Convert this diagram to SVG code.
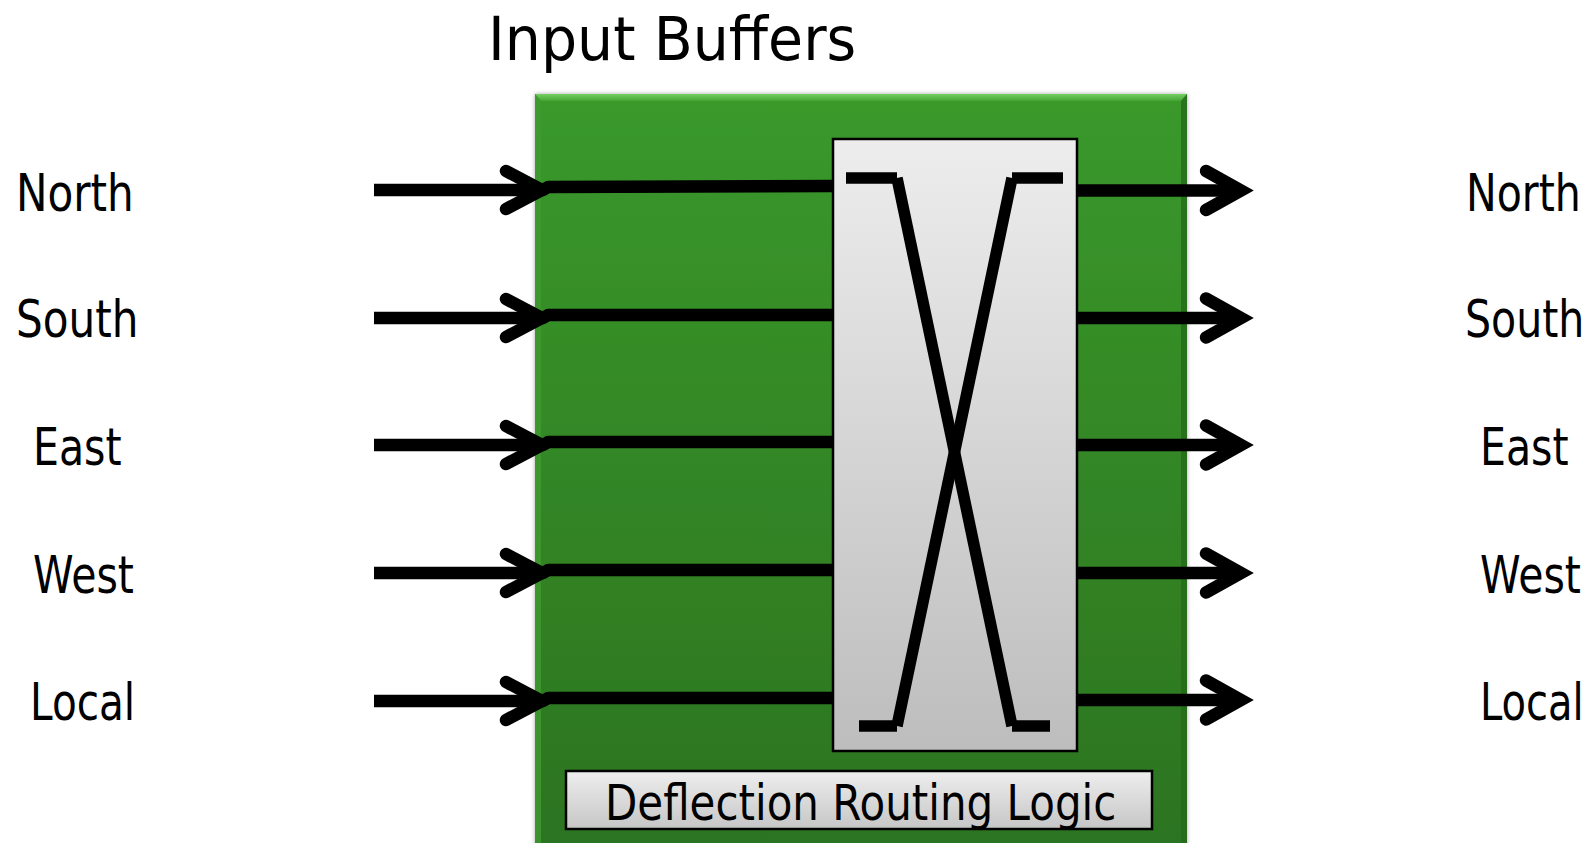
<svg xmlns="http://www.w3.org/2000/svg" width="1592" height="843" viewBox="0 0 1592 843">
<defs>
<linearGradient id="gGreen" x1="0" y1="0" x2="0" y2="1">
<stop offset="0" stop-color="#3a992b"/>
<stop offset="1" stop-color="#2c7320"/>
</linearGradient>
<linearGradient id="gTop" x1="0" y1="0" x2="0" y2="1">
<stop offset="0" stop-color="#76cf63"/>
<stop offset="1" stop-color="#44a534"/>
</linearGradient>
<linearGradient id="gGray" x1="0" y1="0" x2="0" y2="1">
<stop offset="0" stop-color="#ededed"/>
<stop offset="1" stop-color="#bdbdbd"/>
</linearGradient>
<linearGradient id="gLabel" x1="0" y1="0" x2="0" y2="1">
<stop offset="0" stop-color="#eeeeee"/>
<stop offset="1" stop-color="#c6c6c6"/>
</linearGradient>
<filter id="sh" x="-5%" y="-5%" width="110%" height="110%">
<feGaussianBlur in="SourceAlpha" stdDeviation="2"/>
<feOffset dx="0" dy="0" result="b"/>
<feFlood flood-color="#000" flood-opacity="0.35"/>
<feComposite in2="b" operator="in"/>
<feMerge><feMergeNode/><feMergeNode in="SourceGraphic"/></feMerge>
</filter>
</defs>
<style>
.t{font-family:"DejaVu Sans","Liberation Sans",sans-serif;fill:#000}
.lbl{font-size:52px}
.ln{fill:none;stroke:#000;stroke-width:12.5;stroke-linejoin:round}
.hd{fill:none;stroke:#000;stroke-width:12.5;stroke-linecap:round;stroke-linejoin:miter}
.x{fill:none;stroke:#000;stroke-width:11.5;stroke-linecap:butt}
</style>
<rect width="1592" height="843" fill="#ffffff"/>

<g id="router">
<rect x="535" y="94" width="652" height="760" fill="url(#gGreen)" filter="url(#sh)"/>
<polygon points="535,94 1187,94 1181,101 541,101" fill="url(#gTop)"/>
<polygon points="535,94 541,101 541,843 535,843" fill="#3f9b30" opacity="0.8"/>
<polygon points="1187,94 1181,101 1181,843 1187,843" fill="#256a1a" opacity="0.8"/>
</g>

<g id="title">
<text class="t" font-size="60" transform="translate(488,60) scale(0.95,1)">Input Buffers</text>
</g>

<g id="crossbar">
<rect x="833" y="139" width="244" height="612" fill="url(#gGray)" stroke="#000" stroke-width="2.5"/>
<line class="x" x1="846" y1="178" x2="897" y2="178"/>
<line class="x" x1="1012" y1="178" x2="1063" y2="178"/>
<line class="x" x1="859" y1="726" x2="897" y2="726"/>
<line class="x" x1="1012" y1="726" x2="1050" y2="726"/>
<line class="x" x1="897" y1="178" x2="1012" y2="726"/>
<line class="x" x1="1012" y1="178" x2="897" y2="726"/>
</g>

<g id="routing-logic">
<rect x="566" y="771" width="586" height="58" fill="url(#gLabel)" stroke="#000" stroke-width="2.5"/>
<text class="t" font-size="50" transform="translate(605,820) scale(0.84,1)">Deflection Routing Logic</text>
</g>

<g id="inputs-labels">
<text class="t lbl" transform="translate(16,211) scale(0.81,1)">North</text>
<text class="t lbl" transform="translate(16,337) scale(0.81,1)">South</text>
<text class="t lbl" transform="translate(33,465) scale(0.79,1)">East</text>
<text class="t lbl" transform="translate(33,593) scale(0.79,1)">West</text>
<text class="t lbl" transform="translate(30,720) scale(0.78,1)">Local</text>
</g>

<g id="outputs-labels">
<text class="t lbl" transform="translate(1466,211) scale(0.79,1)">North</text>
<text class="t lbl" transform="translate(1465,337) scale(0.79,1)">South</text>
<text class="t lbl" transform="translate(1480,465) scale(0.79,1)">East</text>
<text class="t lbl" transform="translate(1480,593) scale(0.79,1)">West</text>
<text class="t lbl" transform="translate(1480,720) scale(0.77,1)">Local</text>
</g>

<g id="connectors">
<polyline class="ln" points="374,190 543,190 548,187 833,186"/>
<polyline class="hd" points="506,171 542,190 506,209"/>
<polyline class="ln" points="374,318 543,318 548,315 833,315"/>
<polyline class="hd" points="506,299 542,318 506,337"/>
<polyline class="ln" points="374,445 543,445 548,442 833,442"/>
<polyline class="hd" points="506,426 542,445 506,464"/>
<polyline class="ln" points="374,573 543,573 548,570 833,570"/>
<polyline class="hd" points="506,554 542,573 506,592"/>
<polyline class="ln" points="374,701 543,701 548,698 833,698"/>
<polyline class="hd" points="506,682 542,701 506,720"/>

<line class="ln" x1="1077" y1="190.5" x2="1240" y2="190.5"/>
<polyline class="hd" points="1206,171 1241,190.5 1206,210"/>
<line class="ln" x1="1077" y1="318" x2="1240" y2="318"/>
<polyline class="hd" points="1206,298.5 1241,318 1206,337.5"/>
<line class="ln" x1="1077" y1="445" x2="1240" y2="445"/>
<polyline class="hd" points="1206,425.5 1241,445 1206,464.5"/>
<line class="ln" x1="1077" y1="573" x2="1240" y2="573"/>
<polyline class="hd" points="1206,553.5 1241,573 1206,592.5"/>
<line class="ln" x1="1077" y1="700" x2="1240" y2="700"/>
<polyline class="hd" points="1206,680.5 1241,700 1206,719.5"/>
</g>
</svg>
